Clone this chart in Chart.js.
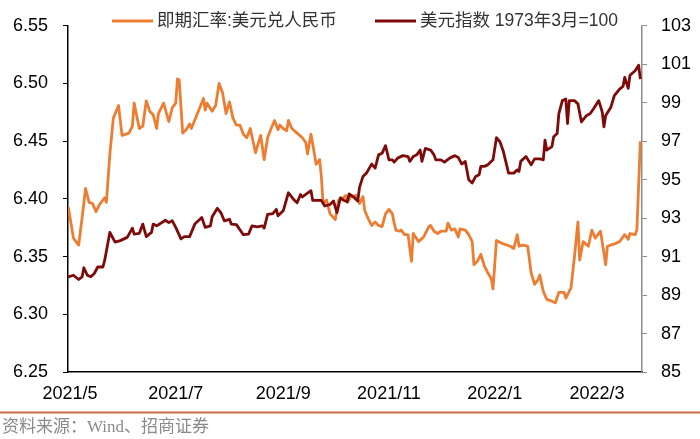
<!DOCTYPE html>
<html>
<head>
<meta charset="utf-8">
<script src="https://cdn.jsdelivr.net/npm/chart.js@4.4.1/dist/chart.umd.min.js"></script>
<style>
    html, body { margin: 0; padding: 0; background: #fff; }
    #wrap { width: 700px; height: 439px; }
</style>
</head>
<body>
<div id="wrap"><canvas id="fx-chart" width="700" height="439"></canvas></div>
<script>
// x values are days counted from 2021-05-01
const cnyDays = [
    -1, 2, 5, 7, 9, 11, 13, 15, 17, 20,
    21, 23, 25, 28, 30, 34, 36, 37, 40, 42,
    44, 46, 48, 50, 51, 54, 57, 59, 61, 62,
    63, 65, 67, 69, 70, 73, 77, 78, 79, 82,
    84, 86, 88, 90, 92, 94, 96, 98, 100, 102,
    104, 107, 110, 112, 114, 116, 118, 120, 121, 123,
    125, 126, 128, 131, 134, 136, 137, 139, 141, 142,
    144, 145, 146, 148, 150, 153, 155, 157, 159, 160,
    162, 165, 167, 169, 170, 172, 174, 176, 178, 180,
    182, 184, 186, 187, 188, 190, 191, 193, 195, 197,
    198, 201, 204, 207, 208, 210, 212, 214, 217, 218,
    220, 222, 224, 225, 228, 230, 232, 233, 235, 237,
    239, 241, 243, 244, 246, 250, 254, 256, 258, 259,
    261, 264, 266, 268, 270, 271, 273, 275, 277, 280,
    282, 285, 286, 289, 291, 293, 294, 296, 299, 301,
    303, 306, 308, 309, 310, 314, 317, 320, 322, 323,
    326, 327, 329
];
const cnyRates = [
    6.393, 6.366, 6.360, 6.384, 6.409, 6.397, 6.396, 6.389, 6.395, 6.401,
    6.397, 6.439, 6.470, 6.481, 6.455, 6.457, 6.463, 6.483, 6.461, 6.463,
    6.485, 6.476, 6.473, 6.461, 6.474, 6.483, 6.467, 6.479, 6.483, 6.504,
    6.503, 6.457, 6.460, 6.465, 6.461, 6.472, 6.487, 6.477, 6.483, 6.476,
    6.481, 6.500, 6.492, 6.474, 6.484, 6.470, 6.464, 6.464, 6.456, 6.453,
    6.461, 6.440, 6.455, 6.434, 6.453, 6.461, 6.468, 6.460, 6.464, 6.461,
    6.459, 6.468, 6.461, 6.457, 6.453, 6.449, 6.439, 6.456, 6.439, 6.430,
    6.434, 6.419, 6.396, 6.399, 6.387, 6.382, 6.399, 6.400, 6.403, 6.397,
    6.402, 6.403, 6.396, 6.402, 6.390, 6.383, 6.377, 6.380, 6.377, 6.376,
    6.387, 6.391, 6.387, 6.379, 6.373, 6.372, 6.373, 6.369, 6.369, 6.346,
    6.370, 6.363, 6.367, 6.376, 6.377, 6.372, 6.370, 6.372, 6.372, 6.379,
    6.373, 6.374, 6.367, 6.374, 6.373, 6.369, 6.363, 6.343, 6.346, 6.352,
    6.342, 6.336, 6.331, 6.322, 6.364, 6.361, 6.359, 6.357, 6.369, 6.359,
    6.360, 6.359, 6.336, 6.326, 6.330, 6.334, 6.320, 6.313, 6.312, 6.310,
    6.319, 6.319, 6.314, 6.323, 6.350, 6.380, 6.347, 6.363, 6.359, 6.373,
    6.366, 6.372, 6.353, 6.343, 6.359, 6.361, 6.363, 6.369, 6.365, 6.370,
    6.369, 6.373, 6.450
];

const dxyDays = [
    -1, 2, 5, 7, 8, 10, 12, 14, 16, 19,
    20, 23, 26, 29, 33, 36, 37, 40, 42, 44,
    47, 48, 50, 53, 55, 57, 59, 61, 64, 66,
    69, 72, 76, 78, 81, 82, 85, 87, 89, 92,
    93, 96, 100, 103, 105, 108, 111, 112, 114, 117,
    119, 120, 123, 126, 129, 131, 133, 134, 136, 139,
    140, 143, 145, 147, 150, 152, 154, 156, 158, 160,
    161, 164, 166, 167, 169, 171, 174, 176, 178, 180,
    182, 184, 186, 187, 189, 192, 195, 196, 198, 200,
    202, 203, 205, 208, 210, 211, 214, 216, 219, 222,
    224, 226, 228, 230, 232, 234, 236, 237, 239, 241,
    244, 246, 248, 250, 253, 256, 258, 259, 260, 263,
    266, 268, 271, 273, 274, 275, 278, 279, 281, 282,
    284, 286, 287, 288, 291, 293, 295, 298, 300, 302,
    305, 307, 308, 309, 312, 314, 317, 319, 320, 322,
    323, 326, 328, 329
];
const dxyValues = [
    89.95, 90.03, 89.81, 89.95, 90.42, 90.03, 89.95, 90.12, 90.46, 90.46,
    90.80, 92.26, 91.75, 91.83, 92.00, 92.48, 92.17, 92.21, 92.69, 92.04,
    92.26, 92.69, 92.60, 92.77, 92.89, 92.77, 92.86, 92.52, 91.92, 92.04,
    92.04, 92.69, 93.03, 92.52, 92.60, 93.07, 93.51, 93.29, 92.86, 92.94,
    92.69, 92.66, 92.14, 92.17, 92.60, 92.55, 92.60, 92.48, 93.20, 93.24,
    93.46, 93.12, 93.38, 94.32, 93.97, 93.80, 94.23, 94.10, 94.23, 94.43,
    93.92, 93.92, 93.92, 93.63, 93.71, 93.89, 93.29, 94.06, 93.92, 93.85,
    94.26, 94.06, 93.89, 94.60, 95.17, 95.34, 95.81, 95.60, 96.29, 96.37,
    96.77, 96.03, 96.03, 95.91, 96.12, 96.25, 96.20, 95.95, 96.20, 96.29,
    96.54, 95.95, 96.63, 96.54, 96.29, 96.03, 96.03, 95.91, 96.12, 96.25,
    96.15, 95.81, 95.95, 95.00, 94.83, 95.17, 95.26, 95.69, 95.69, 95.77,
    96.03, 97.18, 96.97, 96.46, 95.34, 95.34, 95.51, 95.43, 95.95, 96.20,
    95.77, 96.08, 96.08, 96.03, 97.06, 96.54, 96.72, 97.23, 97.40, 98.43,
    99.11, 99.20, 97.92, 99.11, 99.11, 98.94, 98.00, 98.34, 98.43, 98.69,
    99.11, 98.52, 97.75, 98.34, 98.77, 99.37, 99.71, 99.85, 100.32, 99.75,
    100.43, 100.66, 100.95, 100.23
];

const seriesNames = ['即期汇率:美元兑人民币', '美元指数 1973年3月=100'];
const monthTicks = [0, 61, 123, 184, 245, 304];
const monthLabels = ['2021/5', '2021/7', '2021/9', '2021/11', '2022/1', '2022/3'];
const leftTicks = [6.25, 6.30, 6.35, 6.40, 6.45, 6.50, 6.55];
const rightTicks = [85, 87, 89, 91, 93, 95, 97, 99, 101, 103];
const sourceNote = '资料来源：Wind、招商证券';

const ORANGE = '#ED7D31';
const DARK_RED = '#7F0A0A';
const tickFont = { family: '"Liberation Sans", Arial, sans-serif', size: 18 };

// legend inside the top of the plot + source line under the chart
const legendAndSource = {
    id: 'legendAndSource',
    afterDraw(chart) {
        const ctx = chart.ctx;
        const items = [
            { text: seriesNames[0], color: ORANGE, x: 112 },
            { text: seriesNames[1], color: DARK_RED, x: 375 }
        ];
        ctx.save();
        ctx.font = '17.5px "Liberation Sans", "Noto Sans CJK SC", sans-serif';
        ctx.textBaseline = 'middle';
        items.forEach(item => {
            ctx.strokeStyle = item.color;
            ctx.lineWidth = 3;
            ctx.beginPath();
            ctx.moveTo(item.x, 21);
            ctx.lineTo(item.x + 41, 21);
            ctx.stroke();
            ctx.fillStyle = '#333';
            ctx.fillText(item.text, item.x + 45, 21);
        });

        ctx.strokeStyle = '#C8694A';
        ctx.lineWidth = 2;
        ctx.beginPath();
        ctx.moveTo(0, 412.5);
        ctx.lineTo(chart.width, 412.5);
        ctx.stroke();

        ctx.fillStyle = '#8a8a8a';
        ctx.font = '17px "Liberation Serif", "Noto Sans CJK SC", serif';
        ctx.textBaseline = 'alphabetic';
        ctx.fillText(sourceNote, 2, 432);
        ctx.restore();
    }
};

function fixedTicks(values) {
    return scale => { scale.ticks = values.map(v => ({ value: v })); };
}

new Chart(document.getElementById('fx-chart'), {
    type: 'line',
    data: {
        datasets: [
            {
                label: seriesNames[0],
                data: cnyDays.map((d, i) => ({ x: d, y: cnyRates[i] })),
                borderColor: ORANGE,
                borderWidth: 2.8,
                yAxisID: 'yLeft',
                order: 2
            },
            {
                label: seriesNames[1],
                data: dxyDays.map((d, i) => ({ x: d, y: dxyValues[i] })),
                borderColor: DARK_RED,
                borderWidth: 2.8,
                yAxisID: 'yRight',
                order: 1
            }
        ]
    },
    options: {
        responsive: false,
        animation: false,
        layout: { padding: { top: 22, left: 0, right: 0, bottom: 0 } },
        elements: {
            point: { radius: 0 },
            line: { tension: 0, borderJoinStyle: 'round' }
        },
        plugins: {
            legend: { display: false },
            tooltip: { enabled: false }
        },
        scales: {
            x: {
                type: 'linear',
                min: -1.15,
                max: 329.95,
                afterFit: scale => { scale.height = 67; },
                afterBuildTicks: fixedTicks(monthTicks),
                border: { color: '#000', width: 1.5 },
                grid: { drawOnChartArea: false, drawTicks: false },
                ticks: {
                    font: tickFont,
                    color: '#000',
                    padding: 11,
                    maxRotation: 0,
                    autoSkip: false,
                    callback: value => monthLabels[monthTicks.indexOf(value)]
                }
            },
            yLeft: {
                position: 'left',
                min: leftTicks[0],
                max: leftTicks[leftTicks.length - 1],
                afterFit: scale => { scale.width = 68; },
                afterBuildTicks: fixedTicks(leftTicks),
                border: { color: '#000', width: 1.5 },
                grid: { drawOnChartArea: false, tickLength: 5, color: '#000' },
                ticks: {
                    font: tickFont,
                    color: '#000',
                    padding: 15,
                    callback: value => value.toFixed(2)
                }
            },
            yRight: {
                position: 'right',
                min: rightTicks[0],
                max: rightTicks[rightTicks.length - 1],
                afterFit: scale => { scale.width = 58; },
                afterBuildTicks: fixedTicks(rightTicks),
                border: { color: '#8c8c8c', width: 1.5 },
                grid: { drawOnChartArea: false, tickLength: 5, color: '#8c8c8c' },
                ticks: {
                    font: tickFont,
                    color: '#000',
                    padding: 14
                }
            }
        }
    },
    plugins: [legendAndSource]
});
</script>
</body>
</html>
